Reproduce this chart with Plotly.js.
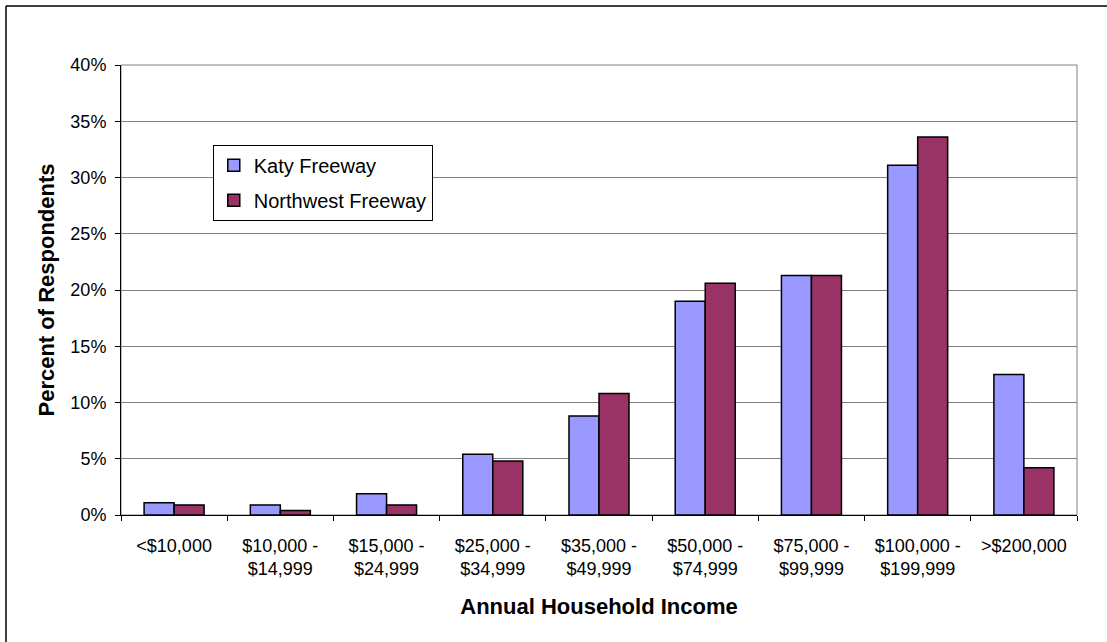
<!DOCTYPE html>
<html>
<head>
<meta charset="utf-8">
<script src="https://cdn.plot.ly/plotly-3.0.1.min.js"></script>
<style>
html,body{margin:0;padding:0;background:#fff;}
#chart{width:1107px;height:642px;}
</style>
</head>
<body>
<div id="chart"></div>
<script>
const categories = ["<$10,000", "$10,000 -<br>$14,999", "$15,000 -<br>$24,999", "$25,000 -<br>$34,999", "$35,000 -<br>$49,999", "$50,000 -<br>$74,999", "$75,000 -<br>$99,999", "$100,000 -<br>$199,999", ">$200,000"];
const katyFreeway = [1.1, 0.9, 1.9, 5.4, 8.8, 19.0, 21.3, 31.1, 12.5];
const northwestFreeway = [0.9, 0.4, 0.9, 4.8, 10.8, 20.6, 21.3, 33.6, 4.2];
const yTickVals = [0, 5, 10, 15, 20, 25, 30, 35, 40];
const yTickText = ["0%", "5%", "10%", "15%", "20%", "25%", "30%", "35%", "40%"];

const font = {family: "Arial, 'Liberation Sans', sans-serif", color: "#000"};

const traces = [
  {type: "bar", name: "Katy Freeway", x: categories, y: katyFreeway, legendgroup: "a",
   marker: {color: "#9999FF", line: {color: "#000", width: 1.5}}},
  {type: "bar", name: "Northwest Freeway", x: categories, y: northwestFreeway, legendgroup: "b",
   marker: {color: "#993366", line: {color: "#000", width: 1.5}}}
];

const layout = {
  width: 1107, height: 642,
  margin: {l: 121, r: 30, t: 65, b: 127},
  paper_bgcolor: "#fff", plot_bgcolor: "#fff",
  font: Object.assign({size: 18}, font),
  barmode: "group", bargap: 0.435, bargroupgap: 0,
  showlegend: true,
  legend: {x: 0.096, y: 0.823, xanchor: "left", yanchor: "top",
    bgcolor: "#fff", bordercolor: "#000", borderwidth: 1,
    font: Object.assign({size: 20}, font), tracegroupgap: 6, itemwidth: 30},
  xaxis: {
    type: "category",
    tickson: "boundaries", ticks: "outside", ticklen: 5, tickcolor: "#000",
    ticklabelstandoff: 14,
    showline: true, linecolor: "#000", linewidth: 1,
    showgrid: false,
    tickfont: Object.assign({size: 18}, font),
    title: {text: "<b>Annual Household Income</b>", font: Object.assign({size: 22}, font), standoff: 20}
  },
  yaxis: {
    range: [0, 40], tickvals: yTickVals, ticktext: yTickText,
    ticks: "outside", ticklen: 5, tickcolor: "#000",
    ticklabelstandoff: 5,
    showline: true, linecolor: "#000", linewidth: 1,
    showgrid: true, gridcolor: "#808080", gridwidth: 1,
    zeroline: false,
    tickfont: Object.assign({size: 18}, font),
    title: {text: "<b>Percent of Respondents</b>", font: Object.assign({size: 22}, font), standoff: 9}
  },
  shapes: [
    {type: "rect", xref: "paper", yref: "paper", x0: 0, x1: 1, y0: 0, y1: 1,
     line: {color: "#808080", width: 1}, layer: "below"},
    {type: "line", xref: "paper", yref: "paper", x0: -0.1203, x1: -0.1203, y0: -0.5, y1: 1.131,
     line: {color: "#000", width: 1.5}},
    {type: "line", xref: "paper", yref: "paper", x0: -0.1203, x1: 1.2, y0: 1.131, y1: 1.131,
     line: {color: "#000", width: 1.5}}
  ]
};

Plotly.newPlot("chart", traces, layout, {displayModeBar: false, staticPlot: true});
</script>
</body>
</html>
